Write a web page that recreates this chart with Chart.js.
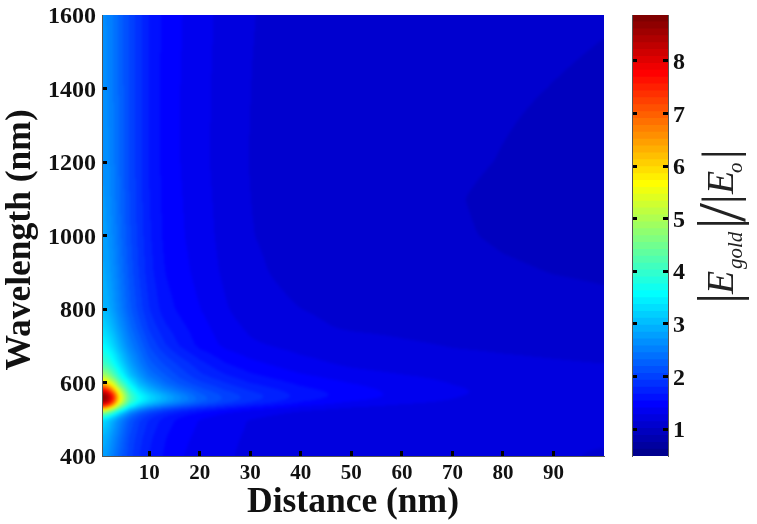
<!DOCTYPE html>
<html>
<head>
<meta charset="utf-8">
<title>Field enhancement</title>
<script src="https://cdn.jsdelivr.net/npm/chart.js@4/dist/chart.umd.js"></script>
<style>
  html, body { margin: 0; padding: 0; background: #fff; }
  #wrap { position: relative; width: 757px; height: 524px; overflow: hidden; }
  canvas { position: absolute; top: 0; filter: blur(0.5px); }
  #heat { left: 0; }
  #bar { left: 620px; }
</style>
</head>
<body>
<div id="wrap">
  <canvas id="heat" width="757" height="524"></canvas>
  <canvas id="bar" width="137" height="524"></canvas>
</div>
<script>
// values
var distances = [1, 2, 3, 4, 6, 8, 10, 13, 16, 20, 25, 30, 40, 50, 60, 70, 80, 90, 100];
var wavelengths = [400, 450, 500, 520, 530, 540, 550, 560, 570, 580, 600, 620, 650, 700, 750, 800, 900, 1000, 1100, 1200, 1400, 1600];

var at400 = [2.80, 2.65, 2.45, 2.28, 2.00, 1.80, 1.66, 1.52, 1.42, 1.35, 1.29, 1.25, 1.20, 1.18, 1.17, 1.16, 1.15, 1.15, 1.14];
var at450 = [2.95, 2.80, 2.60, 2.40, 2.05, 1.85, 1.70, 1.55, 1.45, 1.37, 1.30, 1.26, 1.21, 1.19, 1.18, 1.17, 1.16, 1.15, 1.15];
var at500 = [3.30, 3.10, 2.85, 2.60, 2.20, 1.95, 1.78, 1.62, 1.50, 1.40, 1.32, 1.27, 1.22, 1.19, 1.18, 1.17, 1.16, 1.15, 1.15];
var at520 = [4.80, 4.40, 3.90, 3.40, 2.65, 2.25, 2.02, 1.80, 1.66, 1.53, 1.42, 1.34, 1.25, 1.21, 1.19, 1.17, 1.16, 1.15, 1.15];
var at530 = [6.40, 5.90, 5.20, 4.40, 3.30, 2.75, 2.42, 2.15, 1.96, 1.76, 1.60, 1.48, 1.33, 1.25, 1.21, 1.18, 1.17, 1.16, 1.15];
var at540 = [8.00, 7.50, 6.50, 5.20, 3.90, 3.30, 2.95, 2.60, 2.35, 2.10, 1.88, 1.70, 1.47, 1.34, 1.27, 1.22, 1.19, 1.17, 1.16];
var at550 = [8.70, 8.30, 7.30, 5.80, 4.20, 3.60, 3.25, 2.90, 2.60, 2.27, 2.03, 1.85, 1.57, 1.42, 1.33, 1.27, 1.23, 1.20, 1.18];
var at560 = [8.85, 8.50, 7.60, 6.00, 4.30, 3.65, 3.30, 2.95, 2.65, 2.27, 2.05, 1.88, 1.62, 1.47, 1.37, 1.28, 1.24, 1.21, 1.19];
var at570 = [8.60, 8.10, 7.10, 5.70, 4.10, 3.50, 3.15, 2.80, 2.50, 2.20, 2.00, 1.85, 1.62, 1.48, 1.37, 1.29, 1.25, 1.22, 1.20];
var at580 = [7.80, 7.20, 6.30, 5.20, 3.90, 3.30, 2.95, 2.60, 2.35, 2.12, 1.92, 1.78, 1.58, 1.46, 1.36, 1.29, 1.25, 1.22, 1.20];
var at600 = [6.00, 5.60, 5.00, 4.30, 3.50, 2.95, 2.65, 2.33, 2.14, 1.95, 1.80, 1.66, 1.50, 1.40, 1.33, 1.27, 1.24, 1.22, 1.20];
var at620 = [4.90, 4.60, 4.20, 3.75, 3.10, 2.72, 2.42, 2.20, 2.02, 1.83, 1.68, 1.56, 1.42, 1.33, 1.28, 1.24, 1.22, 1.20, 1.18];
var at650 = [4.10, 3.90, 3.65, 3.35, 2.85, 2.50, 2.25, 2.05, 1.90, 1.72, 1.55, 1.45, 1.32, 1.25, 1.21, 1.18, 1.165, 1.155, 1.145];
var at700 = [3.55, 3.40, 3.20, 2.95, 2.55, 2.30, 2.05, 1.82, 1.66, 1.50, 1.38, 1.30, 1.23, 1.20, 1.165, 1.14, 1.13, 1.12, 1.11];
var at750 = [3.25, 3.10, 2.92, 2.72, 2.38, 2.12, 1.90, 1.70, 1.58, 1.46, 1.33, 1.25, 1.17, 1.13, 1.115, 1.095, 1.085, 1.07, 1.06];
var at800 = [3.00, 2.88, 2.73, 2.55, 2.24, 2.00, 1.80, 1.60, 1.51, 1.41, 1.29, 1.20, 1.145, 1.115, 1.09, 1.07, 1.055, 1.04, 1.03];
var at900 = [2.88, 2.76, 2.62, 2.45, 2.16, 1.92, 1.72, 1.54, 1.46, 1.36, 1.25, 1.17, 1.10, 1.075, 1.055, 1.045, 1.025, 1.012, 1.005];
var at1000 = [2.80, 2.68, 2.55, 2.39, 2.10, 1.88, 1.69, 1.51, 1.43, 1.34, 1.23, 1.15, 1.09, 1.06, 1.04, 1.025, 1.003, 0.99, 0.98];
var at1100 = [2.74, 2.63, 2.50, 2.35, 2.07, 1.86, 1.67, 1.50, 1.42, 1.33, 1.22, 1.145, 1.085, 1.055, 1.035, 1.02, 0.995, 0.985, 0.975];
var at1200 = [2.70, 2.60, 2.47, 2.33, 2.06, 1.85, 1.66, 1.49, 1.41, 1.32, 1.21, 1.14, 1.08, 1.06, 1.04, 1.03, 1.01, 0.99, 0.98];
var at1400 = [2.65, 2.56, 2.44, 2.31, 2.05, 1.85, 1.66, 1.49, 1.41, 1.32, 1.22, 1.145, 1.09, 1.07, 1.05, 1.04, 1.025, 1.012, 1.00];
var at1600 = [2.62, 2.55, 2.42, 2.30, 2.05, 1.85, 1.66, 1.50, 1.42, 1.33, 1.23, 1.15, 1.10, 1.08, 1.06, 1.05, 1.04, 1.03, 1.02];

var field = [at400, at450, at500, at520, at530, at540, at550, at560, at570, at580, at600, at620, at650,
  at700, at750, at800, at900, at1000, at1100, at1200, at1400, at1600];

var xTicks = [10, 20, 30, 40, 50, 60, 70, 80, 90];
var yTicks = [400, 600, 800, 1000, 1200, 1400, 1600];
var barTicks = [1, 2, 3, 4, 5, 6, 7, 8];
var barMin = 0.49;
var barMax = 8.87;
var levels = 64;

var serif = '"Liberation Serif", "Times New Roman", serif';

function clamp(v) { return Math.max(0, Math.min(1, v)); }

// matlab jet with 64 steps, the bands are visible in the picture
function jet(idx) {
  var u = (idx + 1) / levels;
  return [
    Math.round(255 * clamp(Math.min(4 * u - 1.5, -4 * u + 4.5))),
    Math.round(255 * clamp(Math.min(4 * u - 0.5, -4 * u + 3.5))),
    Math.round(255 * clamp(Math.min(4 * u + 0.5, -4 * u + 2.5)))
  ];
}

function levelOf(v) {
  var i = Math.floor((v - barMin) / (barMax - barMin) * levels);
  return Math.max(0, Math.min(levels - 1, i));
}

function segment(list, v) {
  var i = 0;
  while (i < list.length - 2 && v > list[i + 1]) i++;
  return [i, clamp((v - list[i]) / (list[i + 1] - list[i]))];
}

// one pass of a box filter along rows or columns, rounds the corners of the shading
function smooth(src, w, h, stepX, r) {
  var out = new Float32Array(src.length);
  for (var y = 0; y < h; y++) {
    for (var x = 0; x < w; x++) {
      var sum = 0;
      for (var d = -r; d <= r; d++) {
        var nx = stepX ? Math.max(0, Math.min(w - 1, x + d)) : x;
        var ny = stepX ? y : Math.max(0, Math.min(h - 1, y + d));
        sum += src[ny * w + nx];
      }
      out[y * w + x] = sum / (2 * r + 1);
    }
  }
  return out;
}

// shaded like pcolor with interp: every pixel comes from the nearest grid values through the scales
var shading = {
  id: 'shading',
  beforeDatasetsDraw: function (chart) {
    var area = chart.chartArea;
    var xs = chart.scales.x;
    var ys = chart.scales.y;
    var w = Math.round(area.right - area.left);
    var h = Math.round(area.bottom - area.top);
    var vals = new Float32Array(w * h);
    for (var py = 0; py < h; py++) {
      var sy = segment(wavelengths, ys.getValueForPixel(area.top + py + 0.5));
      for (var px = 0; px < w; px++) {
        var sx = segment(distances, xs.getValueForPixel(area.left + px + 0.5));
        var low = field[sy[0]];
        var high = field[sy[0] + 1];
        var a = low[sx[0]] * (1 - sx[1]) + low[sx[0] + 1] * sx[1];
        var b = high[sx[0]] * (1 - sx[1]) + high[sx[0] + 1] * sx[1];
        vals[py * w + px] = a * (1 - sy[1]) + b * sy[1];
      }
    }
    vals = smooth(smooth(vals, w, h, true, 2), w, h, false, 3);
    var off = document.createElement('canvas');
    off.width = w;
    off.height = h;
    var octx = off.getContext('2d');
    var img = octx.createImageData(w, h);
    for (var k = 0; k < w * h; k++) {
      var c = jet(levelOf(vals[k]));
      img.data[k * 4] = c[0];
      img.data[k * 4 + 1] = c[1];
      img.data[k * 4 + 2] = c[2];
      img.data[k * 4 + 3] = 255;
    }
    octx.putImageData(img, 0, 0);
    var ctx = chart.ctx;
    ctx.save();
    ctx.beginPath();
    ctx.rect(area.left, area.top, w, h);
    ctx.clip();
    ctx.drawImage(off, area.left, area.top);
    // the reference is a soft scan, the band edges are about 3px wide
    ctx.filter = 'blur(1.5px)';
    ctx.drawImage(off, area.left, area.top);
    ctx.restore();
  }
};

var points = [];
wavelengths.forEach(function (wl, r) {
  distances.forEach(function (d, c) {
    points.push({ x: d, y: wl, v: field[r][c] });
  });
});

function innerTicks(first, last) {
  return {
    drawOnChartArea: false,
    z: 1,
    tickLength: -5,
    tickWidth: 3,
    tickColor: function (ctx) {
      var v = ctx.tick && ctx.tick.value;
      return v === first || v === last ? 'rgba(0,0,0,0)' : '#000';
    }
  };
}

new Chart(document.getElementById('heat'), {
  type: 'scatter',
  plugins: [shading],
  data: {
    datasets: [{ label: '|Egold|/|Eo|', data: points, pointRadius: 0, pointHoverRadius: 0 }]
  },
  options: {
    responsive: false,
    animation: false,
    events: [],
    layout: { padding: { top: 15, right: 153, left: 0, bottom: 0 } },
    plugins: { legend: { display: false }, tooltip: { enabled: false } },
    scales: {
      x: {
        type: 'linear',
        min: 0.65,
        max: 100,
        afterBuildTicks: function (scale) {
          scale.ticks = xTicks.map(function (v) { return { value: v }; });
        },
        afterFit: function (scale) { scale.height = 68; },
        grid: innerTicks(),
        border: { color: '#555', width: 1, z: 1 },
        ticks: {
          autoSkip: false,
          maxRotation: 0,
          padding: 10,
          color: '#111',
          callback: function (v) { return String(v); },
          font: { family: serif, weight: 'bold', size: 21 }
        },
        title: {
          display: true,
          text: 'Distance (nm)',
          color: '#111',
          padding: { top: 0, bottom: 0 },
          font: { family: serif, weight: 'bold', size: 35.5 }
        }
      },
      y: {
        type: 'linear',
        min: 400,
        max: 1600,
        afterBuildTicks: function (scale) {
          scale.ticks = yTicks.map(function (v) { return { value: v }; });
        },
        afterFit: function (scale) {
          scale.width = 102;
          scale.paddingTop = 0;
          scale.paddingBottom = 0;
        },
        grid: innerTicks(400, 1600),
        border: { color: '#555', width: 1, z: 1 },
        ticks: {
          autoSkip: false,
          padding: 11,
          labelOffset: 2,
          color: '#111',
          callback: function (v) { return String(v); },
          font: { family: serif, weight: 'bold', size: 24 }
        },
        title: {
          display: true,
          text: 'Wavelength (nm) ',
          color: '#111',
          padding: { top: 0, bottom: 0 },
          font: { family: serif, weight: 'bold', size: 35.5 }
        }
      }
    }
  }
});

// the rotated label of the colour bar, every piece is set along the rotated baseline
var barLabel = [
  { text: '|', font: '57px ' + serif, x: 117, y: 304 },
  { text: 'E', font: 'italic 38px ' + serif, x: 113, y: 294 },
  { text: 'gold', font: 'italic 21px ' + serif, x: 122, y: 269 },
  { text: '|', font: '57px ' + serif, x: 117, y: 229 },
  { text: '/', font: '68px ' + serif, x: 124, y: 222 },
  { text: '|', font: '48px ' + serif, x: 116, y: 204 },
  { text: 'E', font: 'italic 38px ' + serif, x: 113, y: 194 },
  { text: 'o', font: 'italic 21px ' + serif, x: 122, y: 173 },
  { text: '|', font: '48px ' + serif, x: 116, y: 159 }
];

var labelPlugin = {
  id: 'barLabel',
  afterDraw: function (chart) {
    var ctx = chart.ctx;
    ctx.save();
    ctx.fillStyle = '#222';
    ctx.textBaseline = 'alphabetic';
    barLabel.forEach(function (p) {
      ctx.save();
      ctx.translate(p.x, p.y);
      ctx.rotate(-Math.PI / 2);
      ctx.font = p.font;
      ctx.fillText(p.text, 0, 0);
      ctx.restore();
    });
    ctx.restore();
  }
};

// first dataset is painted last, so each level covers the ones above it only up to its own top
var barSets = [];
for (var i = 0; i < levels; i++) {
  var c = jet(i);
  barSets.push({
    data: [[barMin, barMin + (barMax - barMin) * (i + 1) / levels]],
    backgroundColor: 'rgb(' + c.join(',') + ')',
    borderWidth: 0,
    barPercentage: 1,
    categoryPercentage: 1,
    grouped: false
  });
}

function barAxis(position, width) {
  return {
    position: position,
    min: barMin,
    max: barMax,
    afterBuildTicks: function (scale) {
      scale.ticks = barTicks.map(function (v) { return { value: v }; });
    },
    afterFit: function (scale) {
      scale.width = width;
      scale.paddingTop = 0;
      scale.paddingBottom = 0;
    },
    grid: innerTicks(),
    border: { color: '#555', width: 1, z: 1 },
    ticks: {
      display: position === 'right',
      autoSkip: false,
      padding: 10,
      labelOffset: 2,
      color: '#111',
      font: { family: serif, weight: 'bold', size: 24 }
    }
  };
}

new Chart(document.getElementById('bar'), {
  type: 'bar',
  plugins: [labelPlugin],
  data: { labels: ['|Egold|/|Eo|'], datasets: barSets },
  options: {
    responsive: false,
    animation: false,
    events: [],
    layout: { padding: { top: 15, left: 12, right: 0, bottom: 68 } },
    plugins: { legend: { display: false }, tooltip: { enabled: false } },
    scales: {
      x: { display: false },
      y: barAxis('right', 89),
      yLeft: barAxis('left', 0)
    }
  }
});
</script>
</body>
</html>
